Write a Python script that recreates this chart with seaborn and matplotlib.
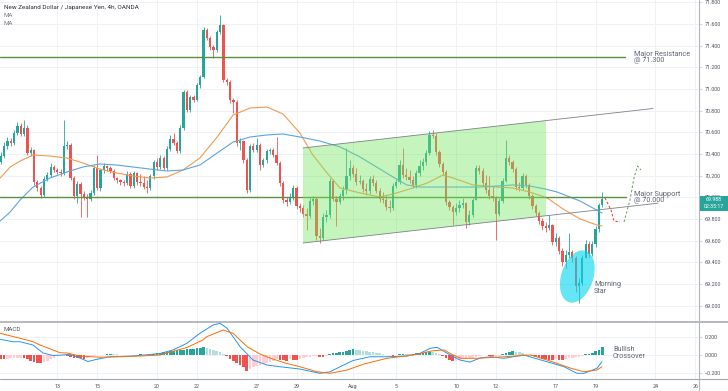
import numpy as np
import pandas as pd
import matplotlib
matplotlib.use("Agg")
import matplotlib.pyplot as plt
import seaborn as sns
from matplotlib.patches import Polygon, Rectangle
from matplotlib.lines import Line2D

sns.set_theme(style="white")
plt.rcParams['font.family'] = ['Roboto', 'DejaVu Sans']

# ---------------- data (4h bars, index 0 = first bar of Jul 13) ----------------
first_bar = -17
first_open = 70.326
close = [70.381, 70.474, 70.520, 70.502, 70.594, 70.659, 70.585, 70.640, 70.409, 70.437, 70.141, 70.086, 70.021, 70.169, 70.206, 70.280, 70.252,
         70.234, 70.224, 70.474, 70.483, 70.178, 70.012, 70.123, 70.030, 70.003, 69.984,
         70.040, 70.271, 70.086, 70.252, 70.289, 70.271, 70.243, 70.178, 70.160, 70.141,
         70.132, 70.215, 70.104, 70.224, 70.141, 70.132, 70.095, 70.086, 70.197, 70.326,
         70.280, 70.363, 70.271, 70.446, 70.539, 70.502, 70.428, 70.640, 70.973, 70.806,
         70.927, 70.899, 71.038, 71.111, 71.546, 71.472, 71.389, 71.361, 71.527, 71.592,
         71.084, 71.065, 70.899, 70.880, 70.502, 70.520, 70.345, 70.067, 70.474, 70.437,
         70.483, 70.298, 70.345, 70.428, 70.437, 70.391, 70.317, 70.132, 69.975, 69.957,
         70.003, 70.086, 69.920, 69.901, 69.846, 69.827, 69.966, 69.984, 69.643, 69.624,
         69.818, 69.836, 70.151, 69.984, 69.957, 70.012, 70.067, 70.197, 70.271, 70.215,
         70.141, 70.151, 70.077, 70.058, 70.169, 70.132, 70.058, 69.984, 69.975, 69.910,
         69.901, 70.104, 70.141, 70.298, 70.206, 70.188, 70.160, 70.114, 70.224, 70.289,
         70.326, 70.409, 70.576, 70.566, 70.418, 70.308, 70.234, 69.957, 69.910, 69.864,
         69.901, 69.929, 69.947, 69.772, 69.836, 69.975, 70.271, 70.243, 70.132, 70.067,
         70.012, 69.994, 69.846, 69.966, 70.151, 70.363, 70.326, 70.261, 70.095, 70.086,
         70.197, 70.114, 70.012, 69.920, 69.855, 69.781, 69.735, 69.717, 69.744, 69.587,
         69.624, 69.504, 69.402, 69.467, 69.495, 69.439, 69.181, 69.208, 69.439, 69.569,
         69.476, 69.569, 69.707, 69.929, 69.988]
high = [70.418, 70.511, 70.557, 70.548, 70.622, 70.696, 70.686, 70.714, 70.668, 70.465, 70.446, 70.160, 70.104, 70.197, 70.234, 70.317, 70.298,
        70.271, 70.261, 70.714, 70.520, 70.502, 70.197, 70.151, 70.141, 70.058, 70.030,
        70.067, 70.298, 70.391, 70.271, 70.317, 70.298, 70.289, 70.261, 70.188, 70.169,
        70.160, 70.243, 70.234, 70.243, 70.234, 70.215, 70.197, 70.160, 70.215, 70.345,
        70.363, 70.391, 70.381, 70.474, 70.576, 70.594, 70.520, 70.668, 70.991, 70.991,
        70.945, 70.945, 71.056, 71.130, 71.573, 71.564, 71.490, 71.407, 71.546, 71.684,
        71.601, 71.102, 71.084, 70.917, 70.899, 70.548, 70.529, 70.363, 70.492, 70.502,
        70.548, 70.502, 70.363, 70.446, 70.455, 70.455, 70.557, 70.335, 70.151, 70.003,
        70.040, 70.114, 70.104, 69.947, 69.929, 69.901, 69.994, 70.012, 70.003, 69.717,
        69.855, 69.883, 70.178, 70.169, 70.012, 70.040, 70.104, 70.455, 70.345, 70.298,
        70.271, 70.206, 70.169, 70.132, 70.197, 70.206, 70.160, 70.086, 70.049, 70.012,
        69.975, 70.132, 70.178, 70.345, 70.455, 70.271, 70.252, 70.197, 70.252, 70.345,
        70.363, 70.437, 70.612, 70.622, 70.594, 70.437, 70.326, 70.252, 69.975, 69.929,
        69.947, 69.975, 69.994, 69.957, 69.883, 69.994, 70.298, 70.298, 70.271, 70.206,
        70.197, 70.104, 70.012, 69.994, 70.178, 70.529, 70.391, 70.345, 70.280, 70.141,
        70.224, 70.215, 70.132, 70.030, 69.938, 69.873, 69.809, 69.772, 69.836, 69.753,
        69.670, 69.643, 69.532, 69.513, 69.670, 69.513, 69.458, 69.255, 69.467, 69.606,
        69.596, 69.596, 69.735, 69.947, 70.049]
low = [70.308, 70.363, 70.446, 70.474, 70.483, 70.576, 70.566, 70.566, 70.391, 70.381, 70.114, 70.058, 69.994, 70.003, 70.151, 70.188, 70.234,
       70.215, 70.197, 70.206, 70.446, 70.160, 69.984, 69.947, 69.818, 69.975, 69.818,
       69.966, 70.021, 70.067, 70.058, 70.224, 70.243, 70.224, 70.160, 70.132, 70.114,
       70.104, 70.114, 70.086, 70.086, 70.114, 70.104, 70.077, 70.040, 70.067, 70.169,
       70.252, 70.261, 70.252, 70.252, 70.428, 70.483, 70.409, 70.409, 70.622, 70.788,
       70.788, 70.880, 70.890, 71.010, 71.102, 71.453, 71.361, 71.287, 71.342, 71.509,
       71.065, 71.038, 70.871, 70.779, 70.474, 70.437, 70.317, 70.040, 70.049, 70.418,
       70.418, 70.252, 70.280, 70.317, 70.400, 70.372, 70.298, 70.104, 69.947, 69.920,
       69.938, 69.975, 69.892, 69.864, 69.818, 69.698, 69.809, 69.929, 69.606, 69.578,
       69.606, 69.772, 69.809, 69.966, 69.735, 69.938, 69.975, 70.030, 70.160, 70.188,
       70.114, 70.123, 70.049, 70.021, 70.030, 70.104, 70.040, 69.957, 69.947, 69.883,
       69.864, 69.883, 70.086, 70.123, 70.178, 70.160, 70.132, 70.086, 70.086, 70.197,
       70.252, 70.298, 70.391, 70.548, 70.391, 70.280, 70.206, 69.929, 69.883, 69.744,
       69.836, 69.864, 69.901, 69.717, 69.744, 69.818, 69.975, 70.215, 70.104, 70.040,
       69.984, 69.966, 69.606, 69.827, 69.947, 70.141, 70.298, 70.234, 70.067, 70.058,
       70.067, 70.086, 69.984, 69.892, 69.827, 69.753, 69.698, 69.680, 69.698, 69.559,
       69.550, 69.476, 69.365, 69.347, 69.439, 69.402, 69.125, 69.024, 69.190, 69.439,
       69.449, 69.458, 69.541, 69.680, 69.910]
macd_hist = [-0.040, -0.045, -0.040, -0.036, -0.034, -0.030, -0.028, -0.030, -0.045, -0.060, -0.075, -0.085, -0.090, -0.075, -0.060, -0.045, -0.030,
             -0.015, -0.005, 0.005, -0.010, -0.020, -0.030, -0.035, -0.038, -0.040, -0.035,
             -0.025, -0.015, -0.005, -0.002, 0.003, 0.008, 0.012, 0.010, 0.006, 0.003,
             0.002, 0.004, 0.002, -0.002, 0.003, 0.006, 0.004, 0.002, 0.005, 0.012,
             0.018, 0.024, 0.030, 0.032, 0.040, 0.045, 0.050, 0.055, 0.060, 0.062,
             0.065, 0.070, 0.075, 0.080, 0.090, 0.080, 0.070, 0.058, 0.045, 0.030,
             0.015, -0.010, -0.040, -0.070, -0.090, -0.110, -0.130, -0.170, -0.150, -0.130,
             -0.120, -0.110, -0.100, -0.090, -0.080, -0.060, -0.040, -0.050, -0.055, -0.060,
             -0.045, -0.050, -0.055, -0.040, -0.030, -0.025, -0.020, -0.015, -0.012, -0.020,
             -0.025, -0.010, 0.010, 0.020, 0.025, 0.030, 0.035, 0.045, 0.055, 0.068,
             0.060, 0.052, 0.045, 0.040, 0.035, 0.030, 0.025, 0.020, 0.012, 0.005,
             -0.005, -0.008, 0.005, 0.010, 0.015, 0.012, 0.010, 0.014, 0.018, 0.022,
             0.026, 0.030, 0.035, 0.030, 0.020, 0.010, -0.010, -0.030, -0.050, -0.070,
             -0.065, -0.055, -0.045, -0.040, -0.035, -0.030, -0.020, -0.010, 0.005, -0.005,
             -0.010, -0.012, -0.010, -0.008, 0.010, 0.020, 0.030, 0.040, 0.035, 0.030,
             0.020, 0.010, 0.005, -0.010, -0.025, -0.035, -0.040, -0.045, -0.050, -0.055,
             -0.045, -0.050, -0.055, -0.040, -0.035, -0.030, -0.025, -0.020, -0.010, 0.010,
             0.015, 0.020, 0.040, 0.060, 0.085]

ma_fast_pos = [-17.2, -14.2, -11.2, -7.3, -2.2, 2.9, 7.7, 12.8, 18.0, 22.8, 27.9, 33.0, 37.8, 42.9, 48.1, 52.9, 58.0, 63.1,
               67.9, 73.0, 76.9, 81.2, 85.1, 91.1, 97.1, 101.0, 107.0, 111.3, 116.1, 119.1, 125.1, 132.3, 137.1, 142.2,
               147.4, 152.2, 157.3, 162.4, 163.9]
ma_fast_val = [70.178, 70.280, 70.335, 70.391, 70.381, 70.363, 70.317, 70.261, 70.224, 70.197, 70.178, 70.188, 70.252, 70.363,
               70.557, 70.760, 70.825, 70.834, 70.770, 70.594, 70.391, 70.224, 70.086, 70.040, 70.003, 70.030, 70.086, 70.132,
               70.206, 70.178, 70.114, 70.095, 70.086, 70.049, 69.994, 69.892, 69.800, 69.744, 69.735]
ma_slow_pos = [-17.2, -14.2, -11.2, -7.3, -2.2, 2.9, 7.7, 12.8, 18.0, 22.8, 27.9, 33.0, 37.8, 42.9, 48.1, 52.9, 58.0, 63.1,
               67.9, 73.0, 79.0, 85.1, 91.1, 97.1, 101.0, 105.2, 109.2, 115.2, 121.2, 127.2, 132.3, 137.1, 142.2, 146.8,
               150.4, 157.3, 163.9]
ma_slow_val = [69.781, 69.864, 69.975, 70.095, 70.178, 70.234, 70.280, 70.308, 70.298, 70.280, 70.261, 70.243, 70.252, 70.298,
               70.409, 70.511, 70.557, 70.576, 70.585, 70.557, 70.520, 70.465, 70.372, 70.261, 70.188, 70.114, 70.095, 70.095,
               70.095, 70.095, 70.104, 70.114, 70.104, 70.077, 70.049, 69.966, 69.855]

macd_pos = [-17.2, -13.3, -11.2, -7.3, -4.3, -1.3, 1.7, 3.8, 6.8, 9.2, 11.9, 15.9, 22.8, 30.9, 34.8, 36.9, 39.0, 42.9, 46.9,
            49.0, 51.1, 55.0, 58.9, 63.1, 67.0, 73.0, 79.0, 82.1, 85.1, 89.0, 94.1, 99.2, 105.2, 109.2, 112.2, 114.3, 117.3,
            121.2, 124.2, 127.2, 130.5, 134.4, 140.4, 145.6, 152.5, 156.4, 158.5, 162.4, 163.9]
macd_val = [0.172, 0.145, 0.145, 0.109, 0.022, -0.005, 0.000, 0.008, -0.033, -0.071, -0.047, -0.019, -0.011, 0.016, 0.055,
            0.091, 0.128, 0.237, 0.328, 0.346, 0.292, 0.091, -0.055, -0.109, -0.128, -0.153, -0.200, -0.183, -0.128, -0.060,
            -0.019, -0.019, -0.011, 0.019, 0.073, 0.084, 0.019, -0.055, -0.077, -0.033, -0.019, -0.036, 0.000, -0.055,
            -0.128, -0.200, -0.200, -0.145, -0.073]
signal_pos = [-17.2, -11.2, -7.3, -5.2, -1.3, 0.8, 2.9, 6.8, 12.8, 18.9, 24.9, 30.9, 33.0, 39.0, 43.8, 45.0, 49.9, 52.9,
              57.1, 61.0, 64.0, 68.5, 73.0, 78.2, 82.1, 87.2, 92.3, 99.2, 107.0, 113.1, 116.4, 119.1, 121.5, 126.3, 134.4,
              142.5, 147.4, 154.6, 158.5, 162.4, 163.9]
signal_val = [0.237, 0.183, 0.145, 0.109, 0.055, 0.025, 0.022, -0.011, -0.024, -0.019, -0.011, 0.000, 0.022, 0.082, 0.164,
              0.200, 0.273, 0.237, 0.091, 0.011, -0.033, -0.087, -0.128, -0.183, -0.200, -0.164, -0.098, -0.036, 0.000,
              0.047, 0.055, 0.000, -0.036, -0.036, -0.019, 0.000, -0.055, -0.145, -0.183, -0.164, -0.128]

tick_pos = [0, 12, 30, 42, 60, 72, 89, 102, 120, 132, 150, 162, 180, 192]
tick_labels = ['13', '15', '20', '22', '27', '29', 'Aug', '5', '10', '12', '17', '19', '24', '26']
price_ticks = [69.0, 69.2, 69.4, 69.6, 69.8, 70.0, 70.2, 70.4, 70.6, 70.8, 71.0, 71.2, 71.4, 71.6, 71.8]
resistance, support = 71.3, 70.0
last_price = 69.988

# ---------------- styling ----------------
UP, DN = '#26a69a', '#ef5350'
GRID = '#eef1f6'
AXC = '#b2b5be'
TXT = '#50535e'
W, H = 728, 391
X0, DX = 57.3, 3.323          # pixel position of bar 0 and bar spacing
P0, DP = 71.8227, 0.0092379   # price at pixel row 0 and price per pixel


def px(x, y):
    """pixel (x, y) in the 728x391 frame -> data coords of the price panel"""
    return (x - X0) / DX, P0 - DP * y


fig = plt.figure(figsize=(W / 100, H / 100), dpi=100)
ax = fig.add_axes([0, 1 - 321.5 / H, 699.3 / W, 321.5 / H])
axm = fig.add_axes([0, 1 - 379 / H, 699.3 / W, 57.5 / H], sharex=ax)

c = np.array(close)
o = np.r_[first_open, c[:-1]]
hi = np.maximum(np.array(high), np.maximum(o, c))
lo = np.minimum(np.array(low), np.minimum(o, c))
x = np.arange(first_bar, first_bar + len(c))
cols = np.where(c >= o, UP, DN)

ax.vlines(x, lo, hi, colors=cols, linewidth=0.6, zorder=2)
ax.bar(x, np.maximum(np.abs(c - o), 0.004), bottom=np.minimum(o, c), width=0.68,
       color=cols, linewidth=0, zorder=2.1)

sns.lineplot(x=ma_fast_pos, y=ma_fast_val, ax=ax, color='#f39a4e', linewidth=0.8, zorder=2.5)
sns.lineplot(x=ma_slow_pos, y=ma_slow_val, ax=ax, color='#5aa5e2', linewidth=0.8, zorder=2.5)

xl0, xl1 = px(0, 0)[0], px(699.3, 0)[0]
# support / resistance
green_line = '#5a8f3e'
ax.plot([xl0, px(625, 0)[0]], [resistance, resistance], color=green_line, lw=1.0, zorder=2.6)
ax.plot([xl0, px(626, 0)[0]], [support, support], color=green_line, lw=1.0, zorder=2.6)

# channel box + channel lines
box = [px(303, 148), px(546, 120.6), px(546, 215.8), px(303, 243)]
ax.add_patch(Polygon(box, closed=True, facecolor='#76e662', alpha=0.42, edgecolor='none', zorder=3))
for (xa, ya), (xb, yb) in [((303, 148), (653, 108.5)), ((303, 243), (658, 203.2))]:
    a, b = px(xa, ya), px(xb, yb)
    ax.plot([a[0], b[0]], [a[1], b[1]], color='#7d8088', lw=0.6, zorder=3.1)

# morning-star ellipse
th = np.deg2rad(18)
t = np.linspace(0, 2 * np.pi, 120)
ux, uy = np.sin(th), -np.cos(th)
vx, vy = np.cos(th), np.sin(th)
ex = 577.3 + 27 * np.cos(t) * ux + 16 * np.sin(t) * vx
ey = 276.5 + 27 * np.cos(t) * uy + 16 * np.sin(t) * vy
epts = [px(a, b) for a, b in zip(ex, ey)]
ax.add_patch(Polygon(epts, closed=True, facecolor='#00d5ee', alpha=0.6, edgecolor='none', zorder=4))

# projected path
red_path = [px(605, 198), px(611, 210), px(614, 221), px(620, 222)]
grn_path = [px(624, 222), px(630, 200), px(634, 178), px(637.5, 166), px(641, 170)]
ax.plot(*zip(*red_path), color='#e53935', lw=0.7, ls=(0, (2.5, 2)), zorder=4)
ax.plot(*zip(*grn_path), color='#6a9a58', lw=0.7, ls=(0, (2.5, 2)), zorder=4)

ax.set_xlim(xl0, xl1)
ax.set_ylim(P0 - DP * 321.5, P0)
ax.set_yticks(price_ticks)
ax.set_yticklabels([f'{v:.3f}' for v in price_ticks])
ax.yaxis.tick_right()
ax.tick_params(axis='y', labelsize=3.9, length=2, width=0.4, color=AXC, labelcolor=TXT, pad=2)
ax.tick_params(axis='x', length=0, labelbottom=False)
ax.grid(True, color=GRID, lw=0.7, zorder=0)
ax.set_axisbelow(True)
for s in ['left', 'top', 'bottom', 'right']:
    ax.spines[s].set_visible(False)
ax.set_xlabel('')
ax.set_ylabel('')

# ---------------- MACD panel ----------------
hv = np.array(macd_hist)
prev = np.r_[hv[0], hv[:-1]]
hcols = np.where(hv >= 0, np.where(hv >= prev, '#26a69a', '#b2dfdb'),
                 np.where(hv > prev, '#ffcdd2', '#ef5350'))
axm.bar(x, hv, width=0.8, color=hcols, linewidth=0, zorder=2)
sns.lineplot(x=macd_pos, y=macd_val, ax=axm, color='#2196f3', linewidth=0.7, zorder=3)
sns.lineplot(x=signal_pos, y=signal_val, ax=axm, color='#ff6d00', linewidth=0.7, zorder=3)
axm.set_ylim(-0.262, 0.366)
axm.set_yticks([-0.2, 0.0, 0.2])
axm.set_yticklabels(['\u22120.200', '0.000', '0.200'])
axm.yaxis.tick_right()
axm.tick_params(axis='y', labelsize=3.9, length=2, width=0.4, color=AXC, labelcolor=TXT, pad=2)
axm.set_xticks(tick_pos)
axm.set_xticklabels(tick_labels)
axm.tick_params(axis='x', labelsize=3.9, length=0, labelcolor=TXT, pad=3.5)
axm.grid(True, color=GRID, lw=0.7, zorder=0)
axm.set_axisbelow(True)
for s in ['left', 'top', 'bottom', 'right']:
    axm.spines[s].set_visible(False)
axm.set_xlim(xl0, xl1)
axm.set_xlabel('')
axm.set_ylabel('')

# frame lines
fig.add_artist(Line2D([0, 1], [1 - 321.5 / H] * 2, transform=fig.transFigure, color='#a3a6af', lw=1.1))
fig.add_artist(Line2D([0, 1], [1 - 379 / H] * 2, transform=fig.transFigure, color='#a3a6af', lw=0.8))
fig.add_artist(Line2D([699.3 / W] * 2, [0, 1], transform=fig.transFigure, color=AXC, lw=0.8))

# ---------------- texts ----------------
def ftext(xp, yp, s, **kw):
    fig.text(xp / W, 1 - yp / H, s, **kw)

ftext(4, 7.3, 'New Zealand Dollar / Japanese Yen, 4h, OANDA', fontsize=4.6, color='#2a2e39', va='center')
ftext(4, 15.2, 'MA', fontsize=4.4, color='#787b86', va='center')
ftext(4, 23.5, 'MA', fontsize=4.4, color='#787b86', va='center')
ftext(3, 329.5, 'MACD', fontsize=4.4, color=TXT, va='center')
note = '#5d6673'
ftext(634, 57.6, 'Major Resistance\n@ 71.300', fontsize=5.2, color=note, va='center', linespacing=0.95)
ftext(634, 197.6, 'Major Support\n@ 70.000', fontsize=5.2, color=note, va='center', linespacing=0.95)
ftext(594, 288.3, 'Morning\nStar', fontsize=5.2, color=note, va='center', linespacing=0.95)
ftext(613, 352.8, 'Bullish\nCrossover', fontsize=5.2, color=note, va='center', linespacing=0.95)

# last price labels
fig.add_artist(Rectangle((700 / W, 1 - 203 / H), 27.5 / W, 7.4 / H, transform=fig.transFigure,
                         facecolor='#26a69a', edgecolor='none', zorder=5))
fig.add_artist(Rectangle((700 / W, 1 - 210.6 / H), 27.5 / W, 7.4 / H, transform=fig.transFigure,
                         facecolor='#26a69a', edgecolor='none', zorder=5))
fig.text(713.7 / W, 1 - 199.3 / H, f'{last_price:.3f}', fontsize=3.8, color='white', ha='center', va='center', zorder=6)
fig.text(713.7 / W, 1 - 206.9 / H, '02:35:17', fontsize=3.8, color='white', ha='center', va='center', zorder=6)

fig.savefig('out.png', dpi=100, facecolor='white')
